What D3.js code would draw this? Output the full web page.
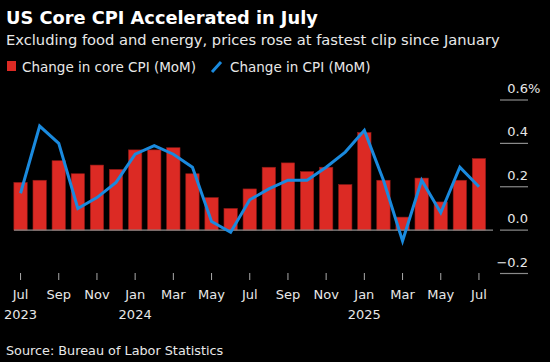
<!DOCTYPE html>
<html>
<head>
<meta charset="utf-8">
<script src="https://cdn.jsdelivr.net/npm/d3@7"></script>
<style>
  body { margin: 0; background: #000; }
  text { font-family: "DejaVu Sans", Verdana, sans-serif; fill: #e8e8e8; }
</style>
</head>
<body>
<script>
// monthly data, Jul 2023 - Jul 2025
var months = ["2023-07","2023-08","2023-09","2023-10","2023-11","2023-12",
  "2024-01","2024-02","2024-03","2024-04","2024-05","2024-06","2024-07","2024-08",
  "2024-09","2024-10","2024-11","2024-12","2025-01","2025-02","2025-03","2025-04",
  "2025-05","2025-06","2025-07"];
var coreCpi = [0.22, 0.23, 0.32, 0.26, 0.30, 0.28, 0.37, 0.37, 0.38, 0.26, 0.15, 0.10,
  0.19, 0.29, 0.31, 0.27, 0.29, 0.21, 0.45, 0.23, 0.06, 0.24, 0.13, 0.23, 0.33];
var cpi = [0.17, 0.48, 0.40, 0.10, 0.15, 0.22, 0.35, 0.39, 0.35, 0.29, 0.04, -0.01,
  0.14, 0.19, 0.23, 0.23, 0.29, 0.36, 0.46, 0.23, -0.05, 0.23, 0.08, 0.29, 0.20];
var yTicks = [-0.2, 0.0, 0.2, 0.4, 0.6];
var tickMonths = ["2023-07","2023-09","2023-11","2024-01","2024-03","2024-05","2024-07",
  "2024-09","2024-11","2025-01","2025-03","2025-05","2025-07"];

var svgWidth = 550;
var svgHeight = 362;

var svg = d3.select("body")
  .append("svg")
  .attr("width", svgWidth)
  .attr("height", svgHeight);

svg.append("rect").attr("width", svgWidth).attr("height", svgHeight).attr("fill", "#000");

// titles
svg.append("text").attr("x", 6).attr("y", 24)
  .style("font-size", "17.8px").style("font-weight", "bold").style("fill", "#fff")
  .text("US Core CPI Accelerated in July");
svg.append("text").attr("x", 6).attr("y", 45)
  .style("font-size", "14.7px")
  .text("Excluding food and energy, prices rose at fastest clip since January");

// legend
svg.append("rect").attr("x", 7).attr("y", 61).attr("width", 9).attr("height", 10).attr("fill", "#dc2a24");
svg.append("text").attr("x", 22).attr("y", 72).style("font-size", "13.5px").text("Change in core CPI (MoM)");
svg.append("line").attr("x1", 212).attr("y1", 72).attr("x2", 221).attr("y2", 62)
  .attr("stroke", "#1a8ade").attr("stroke-width", 3);
svg.append("text").attr("x", 230).attr("y", 72).style("font-size", "13.5px").text("Change in CPI (MoM)");

// scales
var x = d3.scaleBand()
  .domain(months)
  .range([11, 488.5])
  .paddingInner(0.3)
  .paddingOuter(0.15);

var y = d3.scaleLinear()
  .domain([-0.2, 0.6])
  .range([273.5, 100]);

// right axis gridlines + labels
var yAxis = svg.append("g");
yAxis.selectAll("line").data(yTicks).enter().append("line")
  .attr("x1", 500).attr("x2", 528)
  .attr("y1", d => y(d)).attr("y2", d => y(d))
  .attr("stroke", "#8a8a8a").attr("stroke-width", 1.2);
yAxis.selectAll("text").data(yTicks).enter().append("text")
  .attr("x", 528).attr("y", d => y(d) - 7)
  .attr("text-anchor", "end")
  .style("font-size", "13px")
  .text(d => d3.format(".1f")(d));
yAxis.append("text").attr("x", 528).attr("y", y(0.6) - 7)
  .style("font-size", "13px").text("%");

// bars
svg.selectAll(".bar").data(coreCpi).enter().append("rect")
  .attr("class", "bar")
  .attr("x", (d, i) => x(months[i]))
  .attr("width", x.bandwidth())
  .attr("y", d => y(Math.max(0, d)))
  .attr("height", d => Math.abs(y(d) - y(0)))
  .attr("fill", "#dc2a24")
  .attr("stroke", "#8e1a16")
  .attr("stroke-width", 0.6);

// zero line
svg.append("line")
  .attr("x1", 14).attr("x2", 493)
  .attr("y1", y(0)).attr("y2", y(0))
  .attr("stroke", "#8a8a8a").attr("stroke-width", 1.2);

// CPI line
var drawLine = d3.line()
  .x((d, i) => x(months[i]) + x.bandwidth() / 2)
  .y(d => y(d));

svg.append("path")
  .attr("d", drawLine(cpi))
  .attr("fill", "none")
  .attr("stroke", "#1a8ade")
  .attr("stroke-width", 3)
  .attr("stroke-linejoin", "miter");

// x axis ticks and labels
var xAxis = svg.append("g");
xAxis.selectAll("line").data(tickMonths).enter().append("line")
  .attr("x1", d => x(d) + x.bandwidth() / 2).attr("x2", d => x(d) + x.bandwidth() / 2)
  .attr("y1", 273).attr("y2", 280)
  .attr("stroke", "#aaa").attr("stroke-width", 1);
var parseMonth = d3.timeParse("%Y-%m");
xAxis.selectAll(".mlab").data(tickMonths).enter().append("text")
  .attr("class", "mlab")
  .attr("x", d => x(d) + x.bandwidth() / 2).attr("y", 299)
  .attr("text-anchor", "middle")
  .style("font-size", "13px")
  .text(d => d3.timeFormat("%b")(parseMonth(d)));
xAxis.selectAll(".ylab").data(tickMonths.filter(d => d.endsWith("-01") || d == months[0])).enter().append("text")
  .attr("class", "ylab")
  .attr("x", d => x(d) + x.bandwidth() / 2).attr("y", 319)
  .attr("text-anchor", "middle")
  .style("font-size", "13px")
  .text(d => d.slice(0, 4));

// source
svg.append("text").attr("x", 6).attr("y", 355)
  .style("font-size", "12.8px")
  .text("Source: Bureau of Labor Statistics");
</script>
</body>
</html>
